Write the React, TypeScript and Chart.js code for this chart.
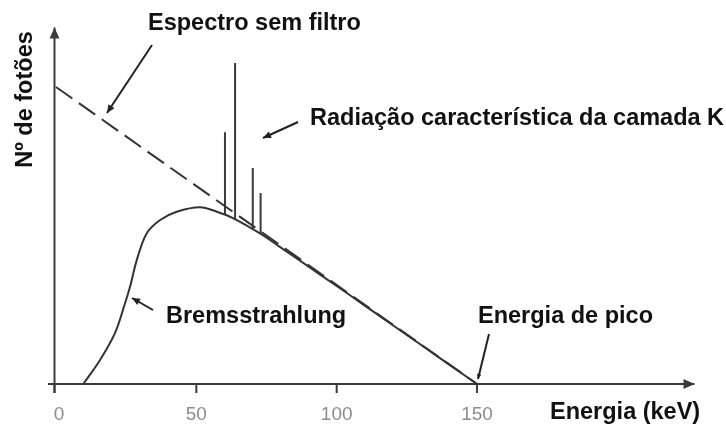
import React, { useEffect, useRef } from 'react';
import { Chart, registerables } from 'chart.js';

Chart.register(...registerables);

// ---- data ----
const tickValues = [0, 50, 100, 150];
const unfilteredEnergy = [0, 150];
const unfilteredCount = [100, 0];
const bremsEnergy = [9.7, 15.7, 21.0, 24.6, 26.4, 28.8, 32.3, 37.1, 43.0, 51.3, 57.3, 63.2, 72.7, 80, 90, 100, 110, 120, 130, 140, 150];
const bremsCount = [0, 8.1, 17.1, 27.2, 32.8, 41.8, 50.7, 55.2, 58.0, 59.5, 58.0, 55.8, 50.7, 46, 39.5, 33, 26.4, 19.8, 13.2, 6.6, 0];
const peakEnergy = [60.2, 63.8, 70.1, 72.9];
const peakBase = [57, 55.4, 51.9, 50.5];
const peakTop = [84.8, 108.1, 72.7, 64.3];

const xAxisTitle = 'Energia (keV)';
const yAxisTitle = 'Nº de fotões';
const labelUnfiltered = 'Espectro sem filtro';
const labelCharacteristic = 'Radiação característica da camada K';
const labelBrems = 'Bremsstrahlung';
const labelPeak = 'Energia de pico';

const LINE = '#333333';
const AXIS = '#3a3a3a';
const TEXT = '#111111';
const BOLD = 'bold 23.5px "Liberation Sans", Arial, sans-serif';

function arrow(ctx: CanvasRenderingContext2D, x1: number, y1: number, x2: number, y2: number, head: number) {
  ctx.beginPath();
  ctx.moveTo(x1, y1);
  ctx.lineTo(x2, y2);
  ctx.stroke();
  if (head > 0) {
    const a = Math.atan2(y2 - y1, x2 - x1);
    const w = head * 0.45;
    ctx.beginPath();
    ctx.moveTo(x2, y2);
    ctx.lineTo(x2 - head * Math.cos(a) + w * Math.sin(a), y2 - head * Math.sin(a) - w * Math.cos(a));
    ctx.lineTo(x2 - head * Math.cos(a) - w * Math.sin(a), y2 - head * Math.sin(a) + w * Math.cos(a));
    ctx.closePath();
    ctx.fill();
  }
}

const axesPlugin = {
  id: 'customAxes',
  beforeDatasetsDraw(chart: any) {
    const ctx = chart.ctx as CanvasRenderingContext2D;
    const xs = chart.scales.x;
    const ys = chart.scales.y;
    const x0 = xs.getPixelForValue(0);
    const y0 = ys.getPixelForValue(0);
    ctx.save();
    ctx.strokeStyle = AXIS;
    ctx.fillStyle = AXIS;
    ctx.lineWidth = 2;
    // x axis
    arrow(ctx, x0 - 8, y0, xs.getPixelForValue(227.5), y0, 11);
    // y axis
    arrow(ctx, x0 - 1.5, ys.getPixelForValue(-3), x0 - 1.5, ys.getPixelForValue(120), 11);
    // ticks
    ctx.lineWidth = 2;
    ctx.font = '19px "Liberation Sans", Arial, sans-serif';
    ctx.textAlign = 'center';
    ctx.textBaseline = 'alphabetic';
    tickValues.forEach((v) => {
      const px = xs.getPixelForValue(v) - (v === 0 ? 1.5 : 0);
      ctx.strokeStyle = AXIS;
      ctx.beginPath();
      ctx.moveTo(px, y0);
      ctx.lineTo(px, y0 + 9);
      ctx.stroke();
      ctx.fillStyle = '#8c8c8c';
      ctx.fillText(String(v), xs.getPixelForValue(v) + (v === 0 ? 3 : 0), 419.5);
    });
    ctx.restore();
  },
  afterDatasetsDraw(chart: any) {
    const ctx = chart.ctx as CanvasRenderingContext2D;
    ctx.save();
    ctx.fillStyle = TEXT;
    ctx.font = BOLD;
    ctx.textAlign = 'left';
    ctx.textBaseline = 'alphabetic';
    ctx.fillText(labelUnfiltered, 148, 30);
    ctx.fillText(labelCharacteristic, 310, 125);
    ctx.fillText(labelBrems, 166, 323);
    ctx.fillText(labelPeak, 478, 323);
    ctx.fillText(xAxisTitle, 550, 419);
    ctx.save();
    ctx.translate(31.5, 99.5);
    ctx.rotate(-Math.PI / 2);
    ctx.textAlign = 'center';
    ctx.fillText(yAxisTitle, 0, 0);
    ctx.restore();

    ctx.strokeStyle = '#222222';
    ctx.fillStyle = '#222222';
    ctx.lineWidth = 2;
    arrow(ctx, 152, 45, 107, 113, 8);
    arrow(ctx, 298, 122, 263, 138, 8);
    arrow(ctx, 153, 310, 132, 298, 8);
    arrow(ctx, 489, 334, 478, 379, 5);
    ctx.restore();
  },
};

export default function App() {
  const ref = useRef<HTMLCanvasElement | null>(null);

  useEffect(() => {
    if (!ref.current) return;
    const peakData: { x: number; y: number | null }[] = [];
    peakEnergy.forEach((e, i) => {
      peakData.push({ x: e, y: peakBase[i] });
      peakData.push({ x: e, y: peakTop[i] });
      peakData.push({ x: e, y: null });
    });
    const chart = new Chart(ref.current, {
      type: 'line',
      data: {
        datasets: [
          {
            label: labelUnfiltered,
            data: unfilteredEnergy.map((x, i) => ({ x, y: unfilteredCount[i] })),
            borderColor: LINE,
            borderWidth: 2,
            borderDash: [20, 8],
            pointRadius: 0,
            tension: 0,
          },
          {
            label: labelBrems,
            data: bremsEnergy.map((x, i) => ({ x, y: bremsCount[i] })),
            borderColor: LINE,
            borderWidth: 2,
            pointRadius: 0,
            tension: 0.35,
          },
          {
            label: labelCharacteristic,
            data: peakData as any,
            borderColor: '#3a3a3a',
            borderWidth: 2,
            pointRadius: 0,
            tension: 0,
            spanGaps: false,
          },
        ],
      },
      options: {
        responsive: false,
        animation: false,
        events: [],
        layout: { padding: { left: 40, right: 16, top: 20, bottom: 27 } },
        plugins: { legend: { display: false }, title: { display: false }, tooltip: { enabled: false } },
        scales: {
          x: { type: 'linear', display: false, min: -5.7, max: 233.0 },
          y: { type: 'linear', display: false, min: -5.387, max: 122.56 },
        },
      },
      plugins: [axesPlugin],
    });
    return () => chart.destroy();
  }, []);

  return (
    <div style={{ position: 'absolute', left: 0, top: 0, width: 726, height: 427, background: '#ffffff' }}>
      <canvas ref={ref} width={726} height={427} style={{ display: 'block' }} />
    </div>
  );
}
